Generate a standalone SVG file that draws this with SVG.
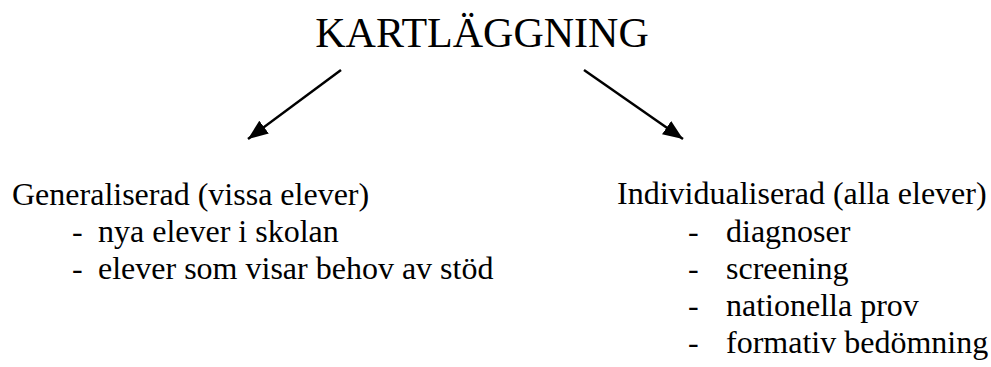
<svg xmlns="http://www.w3.org/2000/svg" width="991" height="367" viewBox="0 0 991 367">
<style>
text{font-family:"Liberation Serif","Times New Roman",serif;fill:#000}
.t{font-size:42px}
.b{font-size:32px}
.c{stroke:#000;stroke-width:2.5;fill:none}
</style>
<defs>
<marker id="ah" markerUnits="userSpaceOnUse" markerWidth="22" markerHeight="18" refX="20" refY="8" orient="auto">
<path d="M0,0 L20,8 L0,16 Z" fill="#000"/>
</marker>
</defs>
<rect width="991" height="367" fill="#fff"/>
<g id="title"><text class="t" x="482" y="47" text-anchor="middle">KARTLÄGGNING</text></g>
<g id="left" class="b">
<text x="12" y="205">Generaliserad (vissa elever)</text>
<g transform="translate(72,242)"><text x="0" y="0">-</text><text x="26" y="0">nya elever i skolan</text></g>
<g transform="translate(72,279)"><text x="0" y="0">-</text><text x="26" y="0">elever som visar behov av stöd</text></g>
</g>
<g id="right" class="b">
<text x="617" y="204">Individualiserad (alla elever)</text>
<text transform="translate(688,242)">-</text><text transform="translate(726,242)">diagnoser</text>
<text transform="translate(688,279)">-</text><text transform="translate(726,279)">screening</text>
<text transform="translate(688,316)">-</text><text transform="translate(726,316)">nationella prov</text>
<text transform="translate(688,353)">-</text><text transform="translate(726,353)">formativ bedömning</text>
</g>
<g id="connectors">
<line class="c" x1="341" y1="70" x2="248" y2="139" marker-end="url(#ah)"/>
<line class="c" x1="584" y1="70" x2="683" y2="139" marker-end="url(#ah)"/>
</g>
</svg>
